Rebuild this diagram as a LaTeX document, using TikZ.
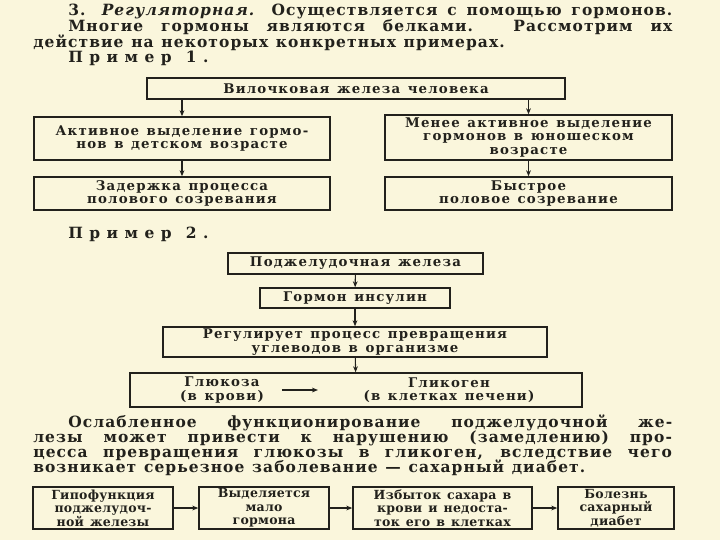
\documentclass[tikz,border=0pt]{standalone}
\usepackage{fontspec}
\usepackage{xcolor}
\setmainfont{DejaVu Serif}
\newfontfamily\boxfont[LetterSpace=9,WordSpace=1.3]{DejaVu Serif}
\newfontfamily\bodyfont[LetterSpace=7,WordSpace=1.2]{DejaVu Serif}
\usetikzlibrary{arrows.meta, positioning}
\definecolor{paper}{HTML}{FAF6DC}
\definecolor{ink}{HTML}{22211C}

\begin{document}
\begin{tikzpicture}[
        x=0.75pt, y=-0.75pt,
        >={Stealth[length=4.5pt,width=3.6pt]},
        box/.style={
            draw=ink,
            line width=1.15pt,
            text=ink,
            inner sep=1pt,
            align=center,
            font=\boxfont\bfseries\fontsize{10}{10}\selectfont
        },
        small/.style={font=\boxfont\bfseries\addfontfeature{LetterSpace=2}\fontsize{9.4}{10}\selectfont},
        sz/.style 2 args={minimum width=#1*0.75pt, minimum height=#2*0.75pt},
        link/.style={->, draw=ink, line width=0.8pt},
        line/.style={anchor=base west, inner sep=0pt, text=ink,
            font=\bodyfont\bfseries\fontsize{11.6}{11}\selectfont}
    ]
        % page
        \fill[paper] (0,0) rectangle (720,540);
        \useasboundingbox (0,0) rectangle (720,540);

        % opening text
        \node[line] (T1) at (68,15) {\makebox[453pt][s]{3. \textit{Регуляторная.} Осуществляется с помощью гормонов.}};
        \node[line] (T2) at (68,31) {\makebox[453pt][s]{Многие гормоны являются белками. Рассмотрим их}};
        \node[line] (T3) at (33,47) {действие на некоторых конкретных примерах.};
        \node[line] (Ex1) at (68,62) {\addfontfeature{LetterSpace=42}Пример 1.};

        % example 1: thymus
        \node[box, sz={418}{21}] (Vil) at (356,88.5) {Вилочковая железа человека};
        \node[box, sz={296}{43}] (Act) at (182,138.5) {Активное выделение гормо-\\нов в детском возрасте};
        \node[box, sz={287}{45}] (Less) at (528.5,137.5) {Менее активное выделение\\гормонов в юношеском\\возрасте};
        \node[box, sz={296}{33}] (Delay) at (182,193.5) {Задержка процесса\\полового созревания};
        \node[box, sz={287}{33}] (Fast) at (528.5,193.5) {Быстрое\\половое созревание};

        \draw[link] (Vil.south -| Act.north) -- (Act.north);
        \draw[link] (Vil.south -| Less.north) -- (Less.north);
        \draw[link] (Act) -- (Delay);
        \draw[link] (Less) -- (Fast);

        % example 2: pancreas
        \node[line] (Ex2) at (68,238) {\addfontfeature{LetterSpace=42}Пример 2.};
        \node[box, sz={255}{21}] (Panc) at (355.5,263.5) {Поджелудочная железа};
        \node[box, sz={190}{20}] (Ins) at (355,298) {Гормон инсулин};
        \node[box, sz={384}{30}] (Reg) at (355,342) {Регулирует процесс превращения\\углеводов в организме};
        \node[box, sz={452}{34}] (Conv) at (356,390) {};
        \node[box, draw=none] (Glc) at (222,390) {Глюкоза\\(в крови)};
        \node[box, draw=none] (Glg) at (449,390) {Гликоген\\(в клетках печени)};

        \draw[link] (Panc) -- (Ins);
        \draw[link] (Ins) -- (Reg);
        \draw[link] (Reg) -- (Conv);
        \draw[link] (Glc.east |- Conv) ++(16,0) coordinate (g0) -- ++(36,0) coordinate (g1);

        % closing text
        \node[line] (P1) at (68,427) {\makebox[453pt][s]{Ослабленное функционирование поджелудочной же-}};
        \node[line] (P2) at (33,442) {\makebox[479pt][s]{лезы может привести к нарушению (замедлению) про-}};
        \node[line] (P3) at (33,457) {\makebox[479pt][s]{цесса превращения глюкозы в гликоген, вследствие чего}};
        \node[line] (P4) at (33,472) {возникает серьезное заболевание — сахарный диабет.};

        % diabetes chain
        \node[box, small, sz={140}{42}] (B1) at (103,508) {Гипофункция\\поджелудоч-\\ной железы};
        \node[box, small, sz={130}{42}] (B2) at (264,508) {Выделяется\\мало\\гормона};
        \node[box, small, sz={179}{42}] (B3) at (442.5,508) {Избыток сахара в\\крови и недоста-\\ток его в клетках};
        \node[box, small, sz={116}{42}] (B4) at (616,508) {Болезнь\\сахарный\\диабет};

        \draw[link] (B1) -- (B2);
        \draw[link] (B2) -- (B3);
        \draw[link] (B3) -- (B4);
    \end{tikzpicture}
\end{document}
